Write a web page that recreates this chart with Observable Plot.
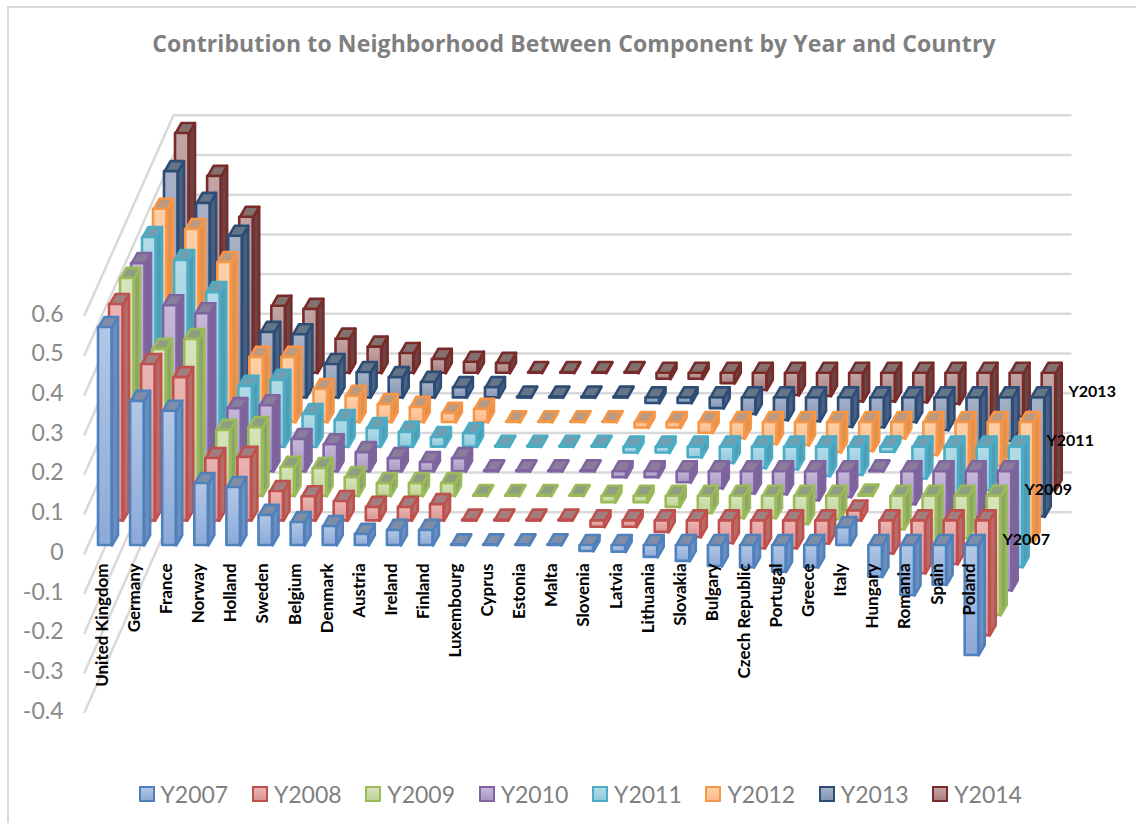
<!DOCTYPE html>
<html>
<head>
<meta charset="utf-8">
<script src="https://cdn.jsdelivr.net/npm/d3@7"></script>
<script src="https://cdn.jsdelivr.net/npm/@observablehq/plot@0.6"></script>
<style>
html,body{margin:0;padding:0;background:#fff;width:1136px;height:823px;overflow:hidden;position:relative}
#frame{position:absolute;left:7px;top:6px;right:-5px;bottom:-5px;border:2px solid #d9d9d9;pointer-events:none}
#title{height:75px;box-sizing:border-box;padding-top:26px;padding-left:12px;text-align:center;font:700 23px/34px "Open Sans",sans-serif;color:#7f7f7f;letter-spacing:.12px}
#chart svg{display:block}
#legend{height:73px;box-sizing:border-box;padding-left:138.5px;padding-top:15px;display:flex;font:23px/30px Lato,sans-serif;color:#808080}
.item{width:113.4px;display:flex;align-items:center;flex:none}
.sw{width:12px;height:12px;border:2px solid;margin-right:6px;flex:none}
</style>
</head>
<body>
<div id="frame"></div>
<div id="title">Contribution to Neighborhood Between Component by Year and Country</div>
<div id="chart"></div>
<div id="legend"></div>
<script>
const countries = ["United Kingdom","Germany","France","Norway","Holland","Sweden","Belgium","Denmark","Austria","Ireland","Finland","Luxembourg","Cyprus","Estonia","Malta","Slovenia","Latvia","Lithuania","Slovakia","Bulgary","Czech Republic","Portugal","Greece","Italy","Hungary","Romania","Spain","Poland"];
const seriesNames = ["Y2007","Y2008","Y2009","Y2010","Y2011","Y2012","Y2013","Y2014"];
const y2007 = [.549,.363,.338,.156,.146,.076,.058,.048,.028,.038,.038,.002,.002,.002,.002,-.015,-.017,-.03,-.04,-.053,-.056,-.067,-.056,.045,-.08,-.126,-.1,-.277];
const y2008 = [.545,.394,.361,.157,.160,.074,.061,.049,.034,.034,.041,.002,.002,.002,.002,-.016,-.016,-.029,-.042,-.057,-.07,-.07,-.058,.025,-.083,-.133,-.11,-.289];
const y2009 = [.549,.37,.395,.166,.173,.073,.070,.047,.032,.032,.032,.002,.002,.002,.002,-.016,-.016,-.028,-.043,-.056,-.056,-.071,-.059,.003,-.084,-.137,-.107,-.30];
const y2010 = [.524,.418,.398,.159,.166,.081,.068,.048,.033,.023,.033,.002,.002,.002,.002,-.015,-.015,-.028,-.043,-.056,-.058,-.073,-.065,.002,-.083,-.141,-.115,-.30];
const y2011 = [.528,.47,.389,.153,.168,.082,.067,.047,.037,.024,.034,.002,.002,.002,.002,-.015,-.015,-.027,-.041,-.054,-.057,-.074,-.071,-.013,-.08,-.14,-.11,-.303];
const y2012 = [.537,.486,.403,.164,.164,.083,.066,.045,.038,.023,.033,.002,.002,.002,.002,-.014,-.014,-.027,-.041,-.055,-.058,-.076,-.073,-.041,-.083,-.14,-.11,-.302];
const y2013 = [.570,.49,.407,.165,.159,.084,.064,.051,.039,.026,.026,.002,.002,.002,.002,-.014,-.014,-.027,-.042,-.057,-.06,-.074,-.075,-.062,-.082,-.14,-.11,-.30];
const y2014 = [.604,.496,.393,.169,.161,.086,.066,.05,.035,.028,.025,.002,.002,.002,.002,-.015,-.015,-.026,-.043,-.056,-.058,-.072,-.072,-.074,-.078,-.14,-.11,-.295];
const seriesValues = [y2007,y2008,y2009,y2010,y2011,y2012,y2013,y2014];
const yTicks = [-0.4,-0.3,-0.2,-0.1,0,0.1,0.2,0.3,0.4,0.5,0.6];

const strokes = ["#4f81bd","#c0504d","#9bbb59","#8064a2","#4bacc6","#f79646","#2c4d75","#772c2a"];
const lightTop = ["#b3c7e5","#eab5b4","#d7e4bd","#c6b8d8","#b3dbe8","#fdd0a8","#a7b2c8","#c2a5a5"];
const lightBot = ["#8caad8","#dc9492","#bdd296","#a997c5","#8fcadd","#fbb98a","#8394b3","#a97f7f"];
const topFill  = ["#7f8ea6","#a17e7f","#8f9e80","#8a7d99","#6f9fb0","#bc9a80","#667488","#857070"];
const sideFill = ["#6d8fbf","#b56d6b","#8ba56b","#7a6596","#4f9cb3","#e0904f","#4b5f80","#6b4545"];

// oblique projection: one country step = 1 x unit; y unit = value
const pxX = 32.1, pxY = 397;
const kx = 11 / pxX, ky = 24.6 / pxY;     // shift per series
const s0 = 8 / 24.6;                      // series row 0 sits this far behind the wall's front edge
const start = 14 / pxX, w = 13.5 / pxX;   // bar offset and width inside a category
const dx = 6 / pxX, dy = 10.5 / pxY;      // depth of one bar
const X = (c, s) => c + start + s * kx;
const Y = (v, s) => v + (s + s0) * ky;

const wallDX = 89 / pxX, wallDY = 200 / pxY, wallEnd = (1070 - 84) / pxX;
const gridRows = yTicks.flatMap(t => [
  {t, X: 0, Y: t},
  {t, X: wallDX, Y: t + wallDY},
  {t, X: wallEnd, Y: t + wallDY}
]);

const marks = [
  Plot.axisY({ticks: yTicks, tickSize: 0, tickPadding: 7, label: null, tickFormat: d => String(d),
    fontSize: 23, fontFamily: "Lato, sans-serif", fill: "#898989", dy: -1}),
  Plot.line(gridRows, {x: "X", y: "Y", z: "t", stroke: "#d9d9d9", strokeWidth: 2.5})
];

for (let s = 7; s >= 0; s--) {
  const bars = seriesValues[s].map((v, c) => ({
    c, x1: X(c, s), x2: X(c, s) + w,
    hi: Y(Math.max(v, 0), s), lo: Y(Math.min(v, 0), s)
  }));
  const side = bars.flatMap(b => [
    {c: b.c, X: b.x2, Y: b.hi},
    {c: b.c, X: b.x2 + dx, Y: b.hi + dy},
    {c: b.c, X: b.x2 + dx, Y: b.lo + dy},
    {c: b.c, X: b.x2, Y: b.lo},
    {c: b.c, X: b.x2, Y: b.hi}
  ]);
  const top = bars.flatMap(b => [
    {c: b.c, X: b.x1, Y: b.hi},
    {c: b.c, X: b.x2, Y: b.hi},
    {c: b.c, X: b.x2 + dx, Y: b.hi + dy},
    {c: b.c, X: b.x1 + dx, Y: b.hi + dy},
    {c: b.c, X: b.x1, Y: b.hi}
  ]);
  const common = {stroke: strokes[s], strokeWidth: 2.6, strokeLinejoin: "round"};
  marks.push(
    Plot.line(side, {x: "X", y: "Y", z: "c", fill: sideFill[s], ...common}),
    Plot.line(top, {x: "X", y: "Y", z: "c", fill: topFill[s], ...common}),
    Plot.rect(bars, {x1: "x1", x2: "x2", y1: "lo", y2: "hi", fill: `url(#g${s})`, ...common})
  );
}

marks.push(
  Plot.text(countries, {
    x: (d, i) => i + 0.56, y: () => -0.025, text: d => d,
    rotate: -90, textAnchor: "end", fontSize: 17, fontWeight: 700,
    fontFamily: "Lato, sans-serif", fill: "#000"
  }),
  Plot.text(seriesNames.map((n, s) => ({n, s})).filter(d => d.s % 2 === 0), {
    x: d => X(28.16, d.s), y: d => Y(0.015, d.s), text: "n",
    textAnchor: "start", fontSize: 16, fontWeight: 700,
    fontFamily: "Lato, sans-serif", fill: "#000"
  })
);

const chart = Plot.plot({
  width: 1136, height: 675,
  marginLeft: 70, marginRight: 0, marginTop: 0, marginBottom: 0,
  x: {domain: [-14 / pxX, (1136 - 84) / pxX], axis: null},
  y: {domain: [(478 - 675) / pxY, 478 / pxY]},
  marks
});
chart.style.background = "transparent";

const defs = d3.select(chart).insert("defs", ":first-child");
seriesNames.forEach((n, s) => {
  const g = defs.append("linearGradient").attr("id", `g${s}`).attr("x1", 0).attr("y1", 0).attr("x2", 0).attr("y2", 1);
  g.append("stop").attr("offset", "0%").attr("stop-color", lightTop[s]);
  g.append("stop").attr("offset", "100%").attr("stop-color", lightBot[s]);
});
document.getElementById("chart").appendChild(chart);

const legend = d3.select("#legend");
seriesNames.forEach((n, s) => {
  const it = legend.append("div").attr("class", "item");
  it.append("div").attr("class", "sw")
    .style("border-color", strokes[s])
    .style("background", `linear-gradient(${lightTop[s]},${lightBot[s]})`);
  it.append("span").text(n);
});
</script>
</body>
</html>
